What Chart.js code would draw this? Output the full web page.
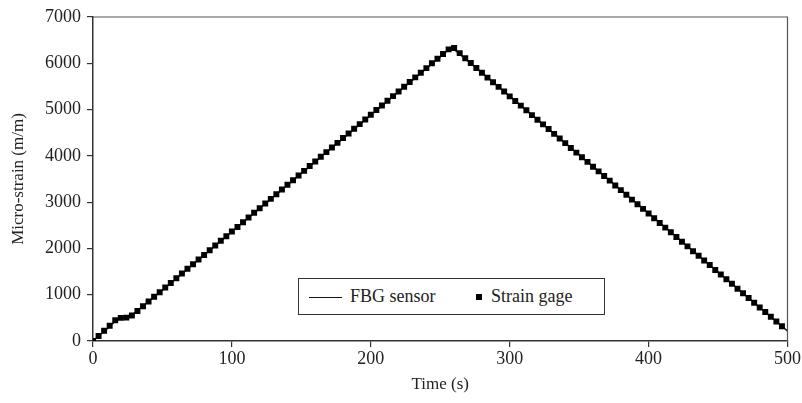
<!DOCTYPE html>
<html>
<head>
<meta charset="utf-8">
<script src="https://cdn.jsdelivr.net/npm/chart.js@4"></script>
<style>
    body { margin: 0; background: #fff; }
    #wrap { position: relative; width: 802px; height: 403px; }
    #legend {
        position: absolute; left: 298px; top: 278px; width: 307px; height: 37px;
        border: 1px solid #333; background: #fff; box-sizing: border-box;
        font-family: 'Liberation Serif', serif; font-size: 18px; color: #222;
    }
    #legend span { position: absolute; top: 7px; }
</style>
</head>
<body>
<div id="wrap">
    <canvas id="chart" width="802" height="403"></canvas>
    <div id="legend"></div>
</div>
<script>
var FONT = "'Liberation Serif', serif";

// strain gage readings, every 4 s
var gageTime = [0, 4, 8, 12, 16, 20, 24, 28, 32, 36, 40, 44, 48, 52, 56, 60, 64, 68, 72, 76,
    80, 84, 88, 92, 96, 100, 104, 108, 112, 116, 120, 124, 128, 132, 136, 140, 144, 148, 152, 156,
    160, 164, 168, 172, 176, 180, 184, 188, 192, 196, 200, 204, 208, 212, 216, 220, 224, 228, 232, 236,
    240, 244, 248, 252, 256, 260, 264, 268, 272, 276, 280, 284, 288, 292, 296, 300, 304, 308, 312, 316,
    320, 324, 328, 332, 336, 340, 344, 348, 352, 356, 360, 364, 368, 372, 376, 380, 384, 388, 392, 396,
    400, 404, 408, 412, 416, 420, 424, 428, 432, 436, 440, 444, 448, 452, 456, 460, 464, 468, 472, 476,
    480, 484, 488, 492, 496];
var gageStrain = [0, 110, 220, 330, 450, 500, 505, 550, 650, 750, 855, 955, 1055, 1155, 1255, 1355, 1460, 1560, 1660, 1760,
    1860, 1960, 2065, 2165, 2265, 2365, 2465, 2565, 2670, 2770, 2870, 2970, 3070, 3170, 3275, 3375, 3475, 3575, 3675, 3780,
    3880, 3980, 4080, 4180, 4280, 4385, 4485, 4585, 4685, 4785, 4890, 4990, 5090, 5190, 5290, 5390, 5495, 5595, 5695, 5795,
    5895, 6000, 6100, 6200, 6300, 6330, 6220, 6110, 6005, 5900, 5795, 5690, 5590, 5490, 5390, 5285, 5185, 5085, 4985, 4880,
    4780, 4680, 4580, 4475, 4375, 4275, 4170, 4070, 3970, 3870, 3765, 3665, 3565, 3465, 3360, 3260, 3160, 3055, 2955, 2855,
    2755, 2650, 2550, 2450, 2350, 2245, 2145, 2045, 1940, 1840, 1740, 1640, 1535, 1435, 1335, 1235, 1130, 1030, 930, 825,
    725, 625, 525, 420, 320];

// FBG sensor trace
var fbgTime = [0, 10, 18, 26, 50, 100, 150, 200, 250, 258, 300, 350, 400, 450, 500];
var fbgStrain = [0, 260, 480, 510, 1100, 2360, 3620, 4880, 6140, 6350, 5290, 4020, 2760, 1490, 215];

var xTicks = [0, 100, 200, 300, 400, 500];
var yTicks = [0, 1000, 2000, 3000, 4000, 5000, 6000, 7000];

function pairs(xs, ys) {
    var out = [];
    for (var i = 0; i < xs.length; i++) {
        out.push({ x: xs[i], y: ys[i] });
    }
    return out;
}

var frame = {
    id: 'frame',
    afterDraw: function (chart) {
        var a = chart.chartArea;
        var ctx = chart.ctx;
        ctx.save();
        ctx.strokeStyle = '#555';
        ctx.lineWidth = 1.2;
        ctx.beginPath();
        ctx.moveTo(a.left, a.top);
        ctx.lineTo(a.right, a.top);
        ctx.lineTo(a.right, a.bottom);
        ctx.stroke();
        ctx.restore();
    }
};

var ctx = document.getElementById("chart").getContext("2d");
var myChart = new Chart(ctx, {
    type: 'scatter',
    data: {
        datasets: [{
            label: 'FBG sensor',
            data: pairs(fbgTime, fbgStrain),
            showLine: true,
            borderColor: '#111',
            borderWidth: 1.5,
            pointRadius: 0,
            order: 2
        }, {
            label: 'Strain gage',
            data: pairs(gageTime, gageStrain),
            showLine: false,
            pointStyle: 'rect',
            pointRadius: 4.2,
            backgroundColor: '#000',
            borderColor: '#000',
            borderWidth: 0,
            order: 1
        }]
    },
    options: {
        responsive: false,
        animation: false,
        layout: { padding: { left: 0, right: 13, top: 17, bottom: 0 } },
        plugins: {
            legend: { display: false },
            tooltip: { enabled: false }
        },
        scales: {
            x: {
                type: 'linear',
                min: 0,
                max: 500,
                afterBuildTicks: function (scale) {
                    scale.ticks = xTicks.map(function (v) { return { value: v }; });
                },
                afterFit: function (scale) { scale.height = 62; },
                ticks: {
                    color: '#222', font: { family: FONT, size: 18 }, padding: 1, maxRotation: 0,
                    callback: function (v) { return String(v); }
                },
                grid: { drawOnChartArea: false, tickLength: 6, color: '#333', lineWidth: 1.2 },
                border: { color: '#333', width: 1.5 },
                title: { display: true, text: 'Time (s)', color: '#222', font: { family: FONT, size: 17 }, padding: 8 }
            },
            y: {
                min: 0,
                max: 7000,
                afterBuildTicks: function (scale) {
                    scale.ticks = yTicks.map(function (v) { return { value: v }; });
                },
                afterFit: function (scale) { scale.width = 93; },
                ticks: {
                    color: '#222', font: { family: FONT, size: 18 }, padding: 6,
                    callback: function (v) { return String(v); }
                },
                grid: { drawOnChartArea: false, tickLength: 6, color: '#333', lineWidth: 1.2 },
                border: { color: '#333', width: 1.5 },
                title: { display: true, text: 'Micro-strain (m/m)', color: '#222', font: { family: FONT, size: 17 }, padding: 8 }
            }
        }
    },
    plugins: [frame]
});

// legend in the middle of the plot, like the original
var leg = document.getElementById('legend');
leg.innerHTML =
    '<div style="position:absolute;left:10px;top:18px;width:33px;border-top:1.5px solid #111;"></div>' +
    '<span style="left:51px;">' + myChart.data.datasets[0].label + '</span>' +
    '<div style="position:absolute;left:177px;top:15px;width:6px;height:6px;background:#000;"></div>' +
    '<span style="left:192px;">' + myChart.data.datasets[1].label + '</span>';
</script>
</body>
</html>
